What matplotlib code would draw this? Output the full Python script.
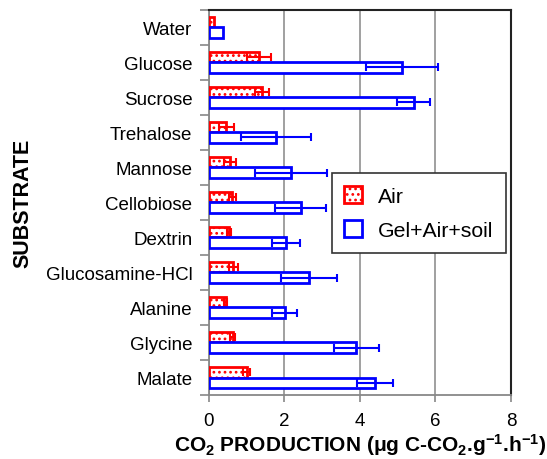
import numpy as np
import matplotlib
matplotlib.use("Agg")
import matplotlib.pyplot as plt

plt.rcParams['font.family'] = ['Liberation Sans', 'DejaVu Sans']
plt.rcParams['mathtext.fontset'] = 'custom'
plt.rcParams['mathtext.rm'] = 'Liberation Sans:bold'
plt.rcParams['mathtext.bf'] = 'Liberation Sans:bold'
plt.rcParams['mathtext.default'] = 'bf'
plt.rcParams['hatch.linewidth'] = 1.2

substrates = ["Water", "Glucose", "Sucrose", "Trehalose", "Mannose", "Cellobiose",
              "Dextrin", "Glucosamine-HCl", "Alanine", "Glycine", "Malate"]
air = [0.13, 1.33, 1.41, 0.46, 0.56, 0.62, 0.53, 0.65, 0.44, 0.63, 1.0]
air_err = [0.0, 0.32, 0.18, 0.2, 0.16, 0.1, 0.05, 0.13, 0.04, 0.06, 0.1]
gel = [0.36, 5.12, 5.42, 1.77, 2.18, 2.43, 2.04, 2.65, 2.01, 3.9, 4.39]
gel_err = [0.0, 0.96, 0.44, 0.93, 0.95, 0.67, 0.37, 0.73, 0.33, 0.6, 0.48]

fig = plt.figure(figsize=(5.47, 4.6), dpi=100)
ax = fig.add_axes([0.382, 0.139, 0.552, 0.838])

y = np.arange(len(substrates))
h = 0.3

ax.barh(y - h / 2, air, height=h, color='white', edgecolor='red', linewidth=2,
        hatch='...', label='Air', zorder=3)
ax.barh(y + h / 2, gel, height=h, color='white', edgecolor='blue', linewidth=2,
        label='Gel+Air+soil', zorder=3)

a = np.array(air_err)
g = np.array(gel_err)
ax.errorbar(air, y - h / 2, xerr=np.where(a > 0, a, np.nan), fmt='none', ecolor='red',
            elinewidth=1.5, capsize=2.6, capthick=1.5, zorder=4)
ax.errorbar(gel, y + h / 2, xerr=np.where(g > 0, g, np.nan), fmt='none', ecolor='blue',
            elinewidth=1.5, capsize=2.6, capthick=1.5, zorder=4)

ax.set_xlim(0, 8)
ax.set_ylim(len(substrates) - 0.5, -0.5)
ax.set_xticks([0, 2, 4, 6, 8])
ax.set_yticks(y)
ax.set_yticklabels(substrates)
ax.set_yticks(np.arange(-0.5, len(substrates), 1), minor=True)
ax.tick_params(axis='y', which='major', length=0, pad=12, labelsize=13.5)
ax.tick_params(axis='y', which='minor', length=6.5, width=1.2, color='#888888')
ax.tick_params(axis='x', length=5, width=1.2, color='#888888', labelsize=13.5, pad=7)

ax.grid(axis='x', color='#999999', linewidth=1.3, zorder=0)
ax.set_axisbelow(True)
for s in ['top', 'right']:
    ax.spines[s].set_color('#222222')
    ax.spines[s].set_linewidth(1.5)
for s in ['left', 'bottom']:
    ax.spines[s].set_color('#888888')
    ax.spines[s].set_linewidth(1.3)

ax.set_xlabel(r'CO$_2$ PRODUCTION ($\mu$g C-CO$_2$.g$^{-1}$.h$^{-1}$)',
              fontsize=15, fontweight='bold', labelpad=2)
ax.set_ylabel('SUBSTRATE', fontsize=15.5, fontweight='bold', labelpad=9)

leg = ax.legend(loc='upper left', bbox_to_anchor=(0.406, 0.576), borderaxespad=0,
                fancybox=False, edgecolor='#333333', framealpha=1, fontsize=15.3,
                handlelength=0.85, handleheight=0.85, borderpad=0.6, labelspacing=0.7,
                handletextpad=0.75)
leg.get_frame().set_linewidth(1.2)

fig.savefig('out.png', dpi=100)
